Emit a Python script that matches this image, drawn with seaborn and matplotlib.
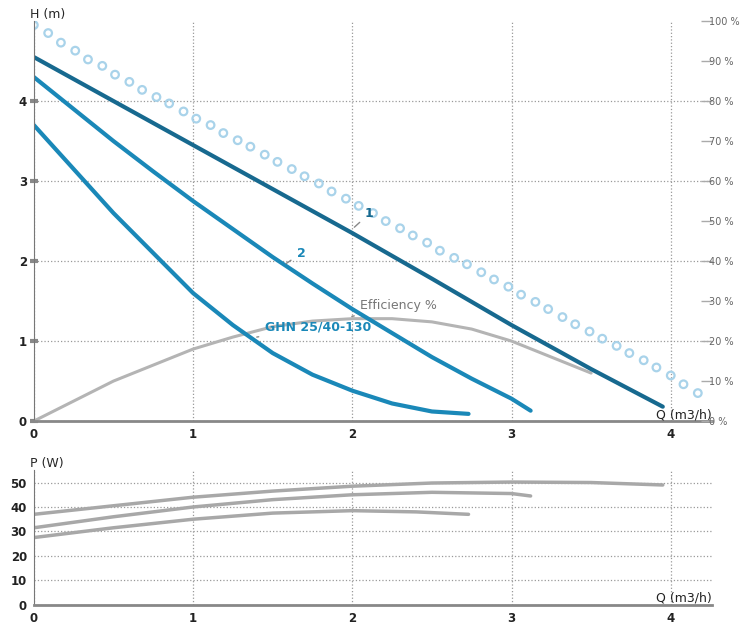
import matplotlib
matplotlib.use("Agg")
import matplotlib.pyplot as plt
import seaborn as sns

# curves (Q in m3/h, H in m)
Q1 = [0, 0.5, 1, 1.5, 2, 2.5, 3, 3.5, 3.95]
H1 = [4.55, 4.0, 3.45, 2.9, 2.35, 1.78, 1.2, 0.65, 0.18]
Q2 = [0, 0.25, 0.5, 0.75, 1, 1.25, 1.5, 1.75, 2, 2.25, 2.5, 2.75, 3, 3.12]
H2 = [4.3, 3.9, 3.5, 3.12, 2.75, 2.4, 2.05, 1.72, 1.4, 1.1, 0.8, 0.53, 0.28, 0.13]
Q3 = [0, 0.25, 0.5, 0.75, 1, 1.25, 1.5, 1.75, 2, 2.25, 2.5, 2.73]
H3 = [3.7, 3.15, 2.6, 2.1, 1.6, 1.2, 0.85, 0.58, 0.38, 0.22, 0.12, 0.09]
# efficiency, expressed on H scale (5 m = 100 %)
QE = [0, 0.25, 0.5, 0.75, 1, 1.25, 1.5, 1.75, 2, 2.25, 2.5, 2.75, 3, 3.25, 3.5]
HE = [0, 0.25, 0.5, 0.7, 0.9, 1.05, 1.18, 1.25, 1.28, 1.28, 1.24, 1.15, 1.0, 0.8, 0.6]
# dotted (circle) line
QC = [0.0, 0.09, 0.17, 0.26, 0.34, 0.43, 0.51, 0.6, 0.68, 0.77, 0.85, 0.94, 1.02, 1.11,
      1.19, 1.28, 1.36, 1.45, 1.53, 1.62, 1.7, 1.79, 1.87, 1.96, 2.04, 2.13, 2.21, 2.3,
      2.38, 2.47, 2.55, 2.64, 2.72, 2.81, 2.89, 2.98, 3.06, 3.15, 3.23, 3.32, 3.4, 3.49,
      3.57, 3.66, 3.74, 3.83, 3.91, 4.0, 4.08, 4.17]
HC = [4.95, 4.85, 4.73, 4.63, 4.52, 4.44, 4.33, 4.24, 4.14, 4.05, 3.97, 3.87, 3.78, 3.7,
      3.6, 3.51, 3.43, 3.33, 3.24, 3.15, 3.06, 2.97, 2.87, 2.78, 2.69, 2.6, 2.5, 2.41,
      2.32, 2.23, 2.13, 2.04, 1.96, 1.86, 1.77, 1.68, 1.58, 1.49, 1.4, 1.3, 1.21, 1.12,
      1.03, 0.94, 0.85, 0.76, 0.67, 0.57, 0.46, 0.35]
# power curves (W)
QP1 = [0, 0.5, 1, 1.5, 2, 2.5, 3, 3.5, 3.95]
P1 = [37, 40.5, 44, 46.5, 48.5, 49.8, 50.2, 50, 49]
QP2 = [0, 0.5, 1, 1.5, 2, 2.5, 3, 3.12]
P2 = [31.5, 36, 40, 43, 45, 46, 45.5, 44.5]
QP3 = [0, 0.5, 1, 1.5, 2, 2.4, 2.73]
P3 = [27.5, 31.5, 35, 37.5, 38.5, 38, 37]
PCT_LABELS = ["0 %", "10 %", "20 %", "30 %", "40 %", "50 %", "60 %", "70 %", "80 %", "90 %", "100 %"]

sns.set_style("white")
fig = plt.figure(figsize=(7.52, 6.38), dpi=100)
ax = fig.add_axes([0.045, 0.340, 0.902, 0.627])
axp = fig.add_axes([0.045, 0.052, 0.902, 0.212])

DARK, MID, GREY = "#17698f", "#1a88b8", "#b4b4b4"

sns.scatterplot(x=QC, y=HC, ax=ax, s=30, facecolor="none", edgecolor="#a9d3ea", linewidth=1.6)
sns.lineplot(x=QE, y=HE, ax=ax, color=GREY, lw=2.2)
sns.lineplot(x=Q1, y=H1, ax=ax, color=DARK, lw=3)
sns.lineplot(x=Q2, y=H2, ax=ax, color=MID, lw=3)
sns.lineplot(x=Q3, y=H3, ax=ax, color=MID, lw=3)

for q, p in [(QP1, P1), (QP2, P2), (QP3, P3)]:
    sns.lineplot(x=q, y=p, ax=axp, color="#a8a8a8", lw=2.5)

for a, ymax, yt in [(ax, 5, range(0, 5)), (axp, 55.3, range(0, 60, 10))]:
    a.set_xlim(0, 4.26)
    a.set_ylim(0, ymax)
    a.set_xticks(range(0, 5))
    a.set_yticks(list(yt))
    a.grid(True, color="#999999", ls=":", lw=0.9)
    for s in ["top", "right"]:
        a.spines[s].set_visible(False)
    a.spines["left"].set_color("#777777")
    a.spines["bottom"].set_color("#888888")
    a.spines["bottom"].set_linewidth(2)
    a.tick_params(axis="both", length=6, width=3, color="#888888", labelsize=8.5,
                  labelcolor="#222222", direction="inout", pad=2)
    for lab in a.get_xticklabels() + a.get_yticklabels():
        lab.set_fontweight("bold")
    a.set_xlabel("")
    a.set_ylabel("")
    a.text(1.0, 0.0, "Q (m3/h)", transform=a.transAxes, ha="right", va="bottom",
           fontsize=9, color="#222222")

ax.text(-0.005, 1.0, "H (m)", transform=ax.transAxes, ha="left", va="bottom", fontsize=9)
axp.text(-0.005, 1.0, "P (W)", transform=axp.transAxes, ha="left", va="bottom", fontsize=9)

# percent scale on the right
ax2 = ax.twinx()
ax2.set_ylim(0, 100)
ax2.set_yticks(range(0, 101, 10))
ax2.set_yticklabels(PCT_LABELS)
ax2.tick_params(axis="y", length=8, width=1, color="#aaaaaa", labelsize=7,
                labelcolor="#666666", direction="in", pad=-2)
for s in ax2.spines.values():
    s.set_visible(False)

# curve labels
ax.annotate("1", xy=(2.0, 2.4), xytext=(2.08, 2.55), fontsize=9, fontweight="bold",
            color=DARK, arrowprops=dict(arrowstyle="-", color="#888888", lw=1))
ax.annotate("2", xy=(1.57, 1.95), xytext=(1.65, 2.05), fontsize=9, fontweight="bold",
            color=MID, arrowprops=dict(arrowstyle="-", color="#888888", lw=1))
ax.annotate("Efficiency %", xy=(1.98, 1.3), xytext=(2.05, 1.4), fontsize=9,
            color="#777777", arrowprops=dict(arrowstyle="-", color="#888888", lw=1))
ax.annotate("GHN 25/40-130", xy=(1.4, 1.05), xytext=(1.45, 1.13), fontsize=9,
            fontweight="bold", color=MID,
            arrowprops=dict(arrowstyle="-", color="#888888", lw=1))

fig.savefig("out.png", dpi=100)
